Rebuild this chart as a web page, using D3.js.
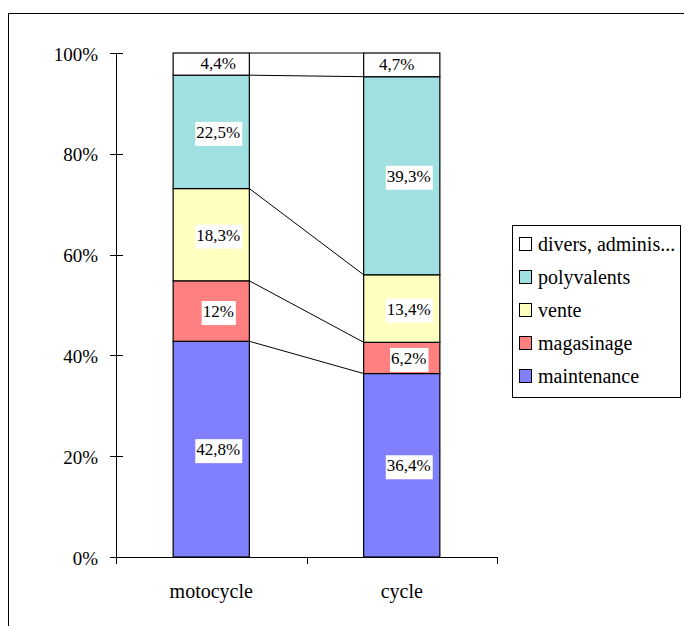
<!DOCTYPE html>
<html><head><meta charset="utf-8">
<script src="https://cdn.jsdelivr.net/npm/d3@7"></script>
<style>body{margin:0;background:#fff}svg{display:block}</style>
</head><body><svg id="c" width="684" height="626"></svg>
<script>
const categories = ["motocycle", "cycle"];
const seriesNames = ["maintenance", "magasinage", "vente", "polyvalents", "divers, adminis..."];
const maintenance = [42.8, 36.4];
const magasinage = [12, 6.2];
const vente = [18.3, 13.4];
const polyvalents = [22.5, 39.3];
const divers = [4.4, 4.7];
const labels = [["42,8%", "36,4%"], ["12%", "6,2%"], ["18,3%", "13,4%"], ["22,5%", "39,3%"], ["4,4%", "4,7%"]];
const yTicks = [0, 20, 40, 60, 80, 100];
const colors = ["#8080FF", "#FF8080", "#FFFFC0", "#A0E0E0", "#FFFFFF"];
const FONT = "Liberation Serif";

const series = [maintenance, magasinage, vente, polyvalents, divers];
const svg = d3.select("#c");
svg.append("rect").attr("x", 8.5).attr("y", 13.5).attr("width", 700).attr("height", 700)
  .attr("fill", "none").attr("stroke", "#000");

const x = d3.scaleBand().domain(categories).range([116, 497]).paddingInner(0).paddingOuter(0);
const y = d3.scaleLinear().domain([0, 100]).range([557, 53]);
const bw = x.bandwidth() * 0.4;

const stacked = [];
categories.forEach((c, i) => {
  let acc = 0;
  series.forEach((s, k) => {
    stacked.push({cat: c, i, k, y0: acc, y1: acc + s[i], label: labels[k][i]});
    acc += s[i];
  });
});

categories.slice(0, -1).forEach((c, i) => {
  let a0 = 0, a1 = 0;
  series.forEach((s, k) => {
    a0 += s[i]; a1 += s[i + 1];
    svg.append("line")
      .attr("x1", x(c) + x.bandwidth() / 2 + bw / 2).attr("y1", y(a0))
      .attr("x2", x(categories[i + 1]) + x.bandwidth() / 2 - bw / 2).attr("y2", y(a1))
      .attr("stroke", "#000").attr("stroke-width", 1);
  });
});

svg.selectAll("rect.bar").data(stacked).enter().append("rect").attr("class", "bar")
  .attr("x", d => x(d.cat) + x.bandwidth() / 2 - bw / 2)
  .attr("width", bw)
  .attr("y", d => y(d.y1))
  .attr("height", d => y(d.y0) - y(d.y1))
  .attr("fill", d => colors[d.k]).attr("stroke", "#000").attr("stroke-width", 1.2);

const lg = svg.selectAll("g.lab").data(stacked).enter().append("g").attr("class", "lab");
lg.each(function(d) {
  const g = d3.select(this);
  const top = d.k === series.length - 1;
  const dx = (top && d.i === 1) ? -5 : 7;
  const cx = x(d.cat) + x.bandwidth() / 2 + dx;
  const cy = (y(d.y0) + y(d.y1)) / 2;
  const base = top ? cy + 5 : cy + 6;
  const t = g.append("text").attr("x", cx).attr("y", base).attr("text-anchor", "middle")
    .style("font-family", FONT).style("font-size", "17px").text(d.label);
  const bb = t.node().getBBox();
  if (!top)
    g.insert("rect", "text").attr("x", bb.x - 1).attr("y", base - 16).attr("width", bb.width + 3)
      .attr("height", 24).attr("fill", "#fff");
});

const ya = svg.append("g");
ya.append("line").attr("x1", 116.5).attr("x2", 116.5).attr("y1", y(0)).attr("y2", y(100)).attr("stroke", "#000");
ya.selectAll("line.t").data(yTicks).enter().append("line").attr("class", "t")
  .attr("x1", 110).attr("x2", 123).attr("y1", d => Math.round(y(d)) + 0.5).attr("y2", d => Math.round(y(d)) + 0.5).attr("stroke", "#000");
ya.selectAll("text").data(yTicks).enter().append("text")
  .attr("x", 98).attr("y", d => y(d) + 7.5).attr("text-anchor", "end")
  .style("font-family", FONT).style("font-size", "19px").text(d => d + "%");

const xa = svg.append("g");
xa.append("line").attr("x1", 116).attr("x2", 497).attr("y1", 557.5).attr("y2", 557.5).attr("stroke", "#000");
xa.selectAll("line.t").data([116, 497].concat(categories.slice(1).map(c => x(c)))).enter().append("line")
  .attr("x1", d => Math.round(d) + 0.5).attr("x2", d => Math.round(d) + 0.5).attr("y1", 557).attr("y2", 564).attr("stroke", "#000");
xa.selectAll("text").data(categories).enter().append("text")
  .attr("x", d => x(d) + x.bandwidth() / 2).attr("y", 598).attr("text-anchor", "middle")
  .style("font-family", FONT).style("font-size", "20px").text(d => d);

const leg = svg.append("g");
leg.append("rect").attr("x", 512.5).attr("y", 225.5).attr("width", 168).attr("height", 172)
  .attr("fill", "#fff").attr("stroke", "#000");
const order = [4, 3, 2, 1, 0];
order.forEach((k, i) => {
  const cy = 244 + i * 33;
  leg.append("rect").attr("x", 519.5).attr("y", cy - 6.5).attr("width", 12).attr("height", 13)
    .attr("fill", colors[k]).attr("stroke", "#000");
  leg.append("text").attr("x", 538).attr("y", cy + 7)
    .style("font-family", FONT).style("font-size", "20px").text(seriesNames[k]);
});
</script></body></html>
